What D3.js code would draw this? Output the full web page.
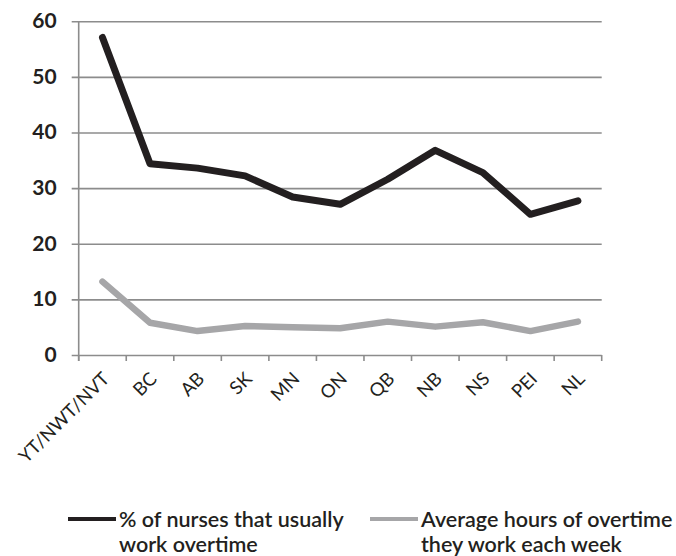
<!DOCTYPE html>
<html>
<head>
<meta charset="utf-8">
<script src="https://cdn.jsdelivr.net/npm/d3@7"></script>
<style>
  body { margin: 0; background: #fff; }
  svg { display: block; font-family: Lato, 'Open Sans', sans-serif; }
</style>
</head>
<body>
<div class="chart"></div>
<script>
// provinces / territories along the x axis
const provinces = ['YT/NWT/NVT', 'BC', 'AB', 'SK', 'MN', 'ON', 'QB', 'NB', 'NS', 'PEI', 'NL']
// % of nurses that usually work overtime
const pctOvertime = [57.1, 34.4, 33.6, 32.2, 28.4, 27.1, 31.6, 36.8, 32.8, 25.3, 27.7]
// average hours of overtime they work each week
const avgHours = [13.2, 5.8, 4.3, 5.2, 5.0, 4.8, 6.0, 5.1, 5.9, 4.3, 6.0]
const yTicks = [0, 10, 20, 30, 40, 50, 60]
const legendLabels = [
  ['% of nurses that usually', 'work overtime'],
  ['Average hours of overtime', 'they work each week']
]

const W = 676, H = 556
const margin = { top: 21.3, right: 74.3, bottom: 201, left: 78.7 }
const width = W - margin.left - margin.right
const height = H - margin.top - margin.bottom

const svg = d3.select('.chart')
  .append('svg')
    .attr('width', W)
    .attr('height', H)

const g = svg.append('g')
  .attr('transform', `translate(${margin.left}, ${margin.top})`)

const x = d3.scaleBand()
  .domain(provinces)
  .range([0, width])
  .padding(0)

const y = d3.scaleLinear()
  .domain([0, 60])
  .range([height, 0])

// gridlines + y labels
const yAxis = g.append('g')
  .call(d3.axisLeft(y).tickValues(yTicks).tickSize(7).tickPadding(15))
yAxis.select('.domain').remove()
yAxis.selectAll('.tick line')
  .attr('x1', -7)
  .attr('x2', width)
  .attr('stroke', '#8c8c8c')
  .attr('stroke-width', 1.6)
yAxis.selectAll('.tick text')
  .attr('fill', '#231f20')
  .style('font-family', 'Lato, sans-serif')
  .style('font-size', '21px')
  .style('font-weight', 700)
  .attr('dy', '0.3em')

// vertical axis line
g.append('line')
  .attr('x1', 0).attr('x2', 0)
  .attr('y1', 0).attr('y2', height + 6)
  .attr('stroke', '#8c8c8c')
  .attr('stroke-width', 1.6)

// x ticks at band boundaries
const bounds = d3.range(provinces.length + 1).map(i => i * x.step())
g.selectAll('.xtick')
  .data(bounds)
  .join('line')
    .attr('class', 'xtick')
    .attr('x1', d => d).attr('x2', d => d)
    .attr('y1', height).attr('y2', height + 6)
    .attr('stroke', '#8c8c8c')
    .attr('stroke-width', 1.6)

// x labels, rotated
g.selectAll('.xlabel')
  .data(provinces)
  .join('text')
    .attr('class', 'xlabel')
    .attr('transform', d => `translate(${x(d) + x.bandwidth() / 2 + 8}, ${height + 25}) rotate(-45)`)
    .attr('text-anchor', 'end')
    .attr('fill', '#231f20')
    .style('font-size', '18.5px')
    .style('font-family', 'Lato, sans-serif')
    .text(d => d)

const line = vals => d3.line()
  .x((d, i) => x(provinces[i]) + x.bandwidth() / 2)
  .y(d => y(d))(vals)

g.append('path')
  .attr('d', line(avgHours))
  .attr('fill', 'none')
  .attr('stroke', '#a6a6a8')
  .attr('stroke-width', 6.5)
  .attr('stroke-linejoin', 'round')
  .attr('stroke-linecap', 'round')

g.append('path')
  .attr('d', line(pctOvertime))
  .attr('fill', 'none')
  .attr('stroke', '#231f20')
  .attr('stroke-width', 7)
  .attr('stroke-linejoin', 'round')
  .attr('stroke-linecap', 'round')

// legend
const legendItems = [
  { x: 68, color: '#231f20', lines: legendLabels[0] },
  { x: 370, color: '#a6a6a8', lines: legendLabels[1] }
]
const legend = svg.selectAll('.legend')
  .data(legendItems)
  .join('g')
    .attr('class', 'legend')
    .attr('transform', d => `translate(${d.x}, 519)`)
legend.append('line')
  .attr('x1', 0).attr('x2', 48)
  .attr('stroke', d => d.color)
  .attr('stroke-width', 4)
legend.append('text')
  .attr('x', 51)
  .attr('y', 8)
  .attr('fill', '#231f20')
  .style('font-family', 'Lato, sans-serif')
  .style('font-size', '21.5px')
  .style('font-weight', 600)
  .selectAll('tspan')
  .data(d => d.lines)
  .join('tspan')
    .attr('x', 51)
    .attr('dy', (d, i) => i ? 25 : 0)
    .text(d => d)
</script>
</body>
</html>
